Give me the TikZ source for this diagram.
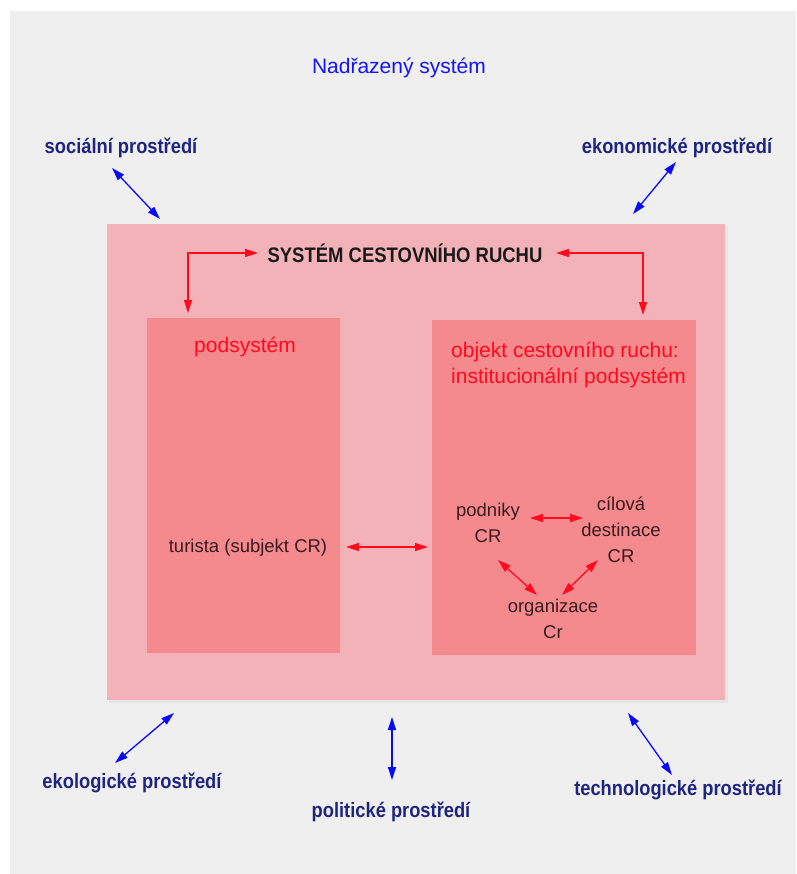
\documentclass[tikz,border=0pt]{standalone}
\usepackage{fontspec}
\setmainfont{Liberation Sans}
\usetikzlibrary{arrows.meta}
\definecolor{bggray}{HTML}{EFEFEF}
\definecolor{outerpink}{HTML}{F2B2B7}
\definecolor{innerpink}{HTML}{F4898E}
\definecolor{envnavy}{HTML}{1E2580}
\definecolor{topblue}{HTML}{1414F5}
\definecolor{linkblue}{HTML}{0A0AFA}
\definecolor{linkred}{HTML}{FF0A1E}
\definecolor{darktext}{HTML}{3A1A1C}
% condensed bold lettering for the labels
\newcommand{\narrowbold}[2]{\scalebox{0.88}[1]{\fontsize{#1}{#1}\selectfont\bfseries #2}}
\tikzset{
  envlabel/.style={text=envnavy, inner sep=0pt},
  redtitle/.style={font=\fontsize{21}{26}\selectfont, text=linkred, inner sep=0pt},
  smalltext/.style={font=\fontsize{18.5}{26}\selectfont, text=darktext, inner sep=0pt, align=center},
  bluelink/.style={draw=linkblue, line width=1.3pt, {Triangle[length=13pt,width=8pt]}-{Triangle[length=13pt,width=8pt]}},
  redlink/.style={draw=linkred, line width=1.3pt, {Triangle[length=13pt,width=8pt]}-{Triangle[length=13pt,width=8pt]}},
}
\begin{document}
\begin{tikzpicture}[x=1pt,y=-1pt]
\useasboundingbox (0,0) rectangle (796,874);
\fill[white] (0,0) rectangle (796,874);
\fill[bggray] (10,11) rectangle (796,874);

% system boxes
\fill[black!10] (109,226) rectangle (728,703);
\fill[outerpink] (107,224) rectangle (725,700);
\fill[innerpink] (147,318) rectangle (340,653);
\fill[innerpink] (432,320) rectangle (696,655);

% headings
\node[font=\fontsize{21}{26}\selectfont, text=topblue, inner sep=0pt] (top) at (399,68) {Nadřazený systém};
\node[text=black!90, inner sep=0pt] (scr) at (405,253) {\narrowbold{21}{SYSTÉM CESTOVNÍHO RUCHU}};

% environment labels
\node[envlabel] (soc) at (121,148) {\narrowbold{20.8}{sociální prostředí}};
\node[envlabel] (eko) at (677,148) {\narrowbold{20.8}{ekonomické prostředí}};
\node[envlabel] (ekol) at (132,783) {\narrowbold{20.8}{ekologické prostředí}};
\node[envlabel] (pol) at (391,812) {\narrowbold{20.8}{politické prostředí}};
\node[envlabel] (tech) at (678,790) {\narrowbold{20.8}{technologické prostředí}};

% anchor points of the environment links
\coordinate (socA) at (112,168);  \coordinate (socB) at (160,219);
\coordinate (ekoA) at (676,162);  \coordinate (ekoB) at (633,214);
\coordinate (ekolA) at (115,763); \coordinate (ekolB) at (174,713);
\coordinate (polA) at (392,717);  \coordinate (polB) at (392,780);
\coordinate (techA) at (628,713); \coordinate (techB) at (672,775);
\draw[bluelink] (socA) -- (socB);
\draw[bluelink] (ekoA) -- (ekoB);
\draw[bluelink] (ekolA) -- (ekolB);
\draw[bluelink] (polA) -- (polB);
\draw[bluelink] (techA) -- (techB);

% subsystem titles
\node[redtitle] (pod) at (245,347) {podsystém};
\node[redtitle, anchor=west] (obj1) at (451,352) {objekt cestovního ruchu:};
\node[redtitle, anchor=west] (obj2) at (451,378) {institucionální podsystém};

% links from the system title to the subsystems
\coordinate (lTop) at (258,253); \coordinate (lBot) at (188,313);
\coordinate (rTop) at (556,253); \coordinate (rBot) at (643,315);
\draw[redlink] (lTop) -| (lBot);
\draw[redlink] (rTop) -| (rBot);

% inner elements
\node[smalltext] (tur) at (248,548) {turista (subjekt CR)};
\node[smalltext] (podn) at (488,523) {podniky\\CR};
\node[smalltext] (cil) at (621,530) {cílová\\destinace\\CR};
\node[smalltext] (org) at (553,619) {organizace\\Cr};

\coordinate (turA) at (346,547); \coordinate (turB) at (428,547);
\draw[redlink] (turA) -- (turB);
\coordinate (pcA) at (530,518); \coordinate (pcB) at (583,518);
\draw[redlink] (pcA) -- (pcB);
\coordinate (poA) at (498,560); \coordinate (poB) at (537,595);
\draw[redlink] (poA) -- (poB);
\coordinate (coA) at (598,560); \coordinate (coB) at (562,595);
\draw[redlink] (coA) -- (coB);
\end{tikzpicture}
\end{document}
